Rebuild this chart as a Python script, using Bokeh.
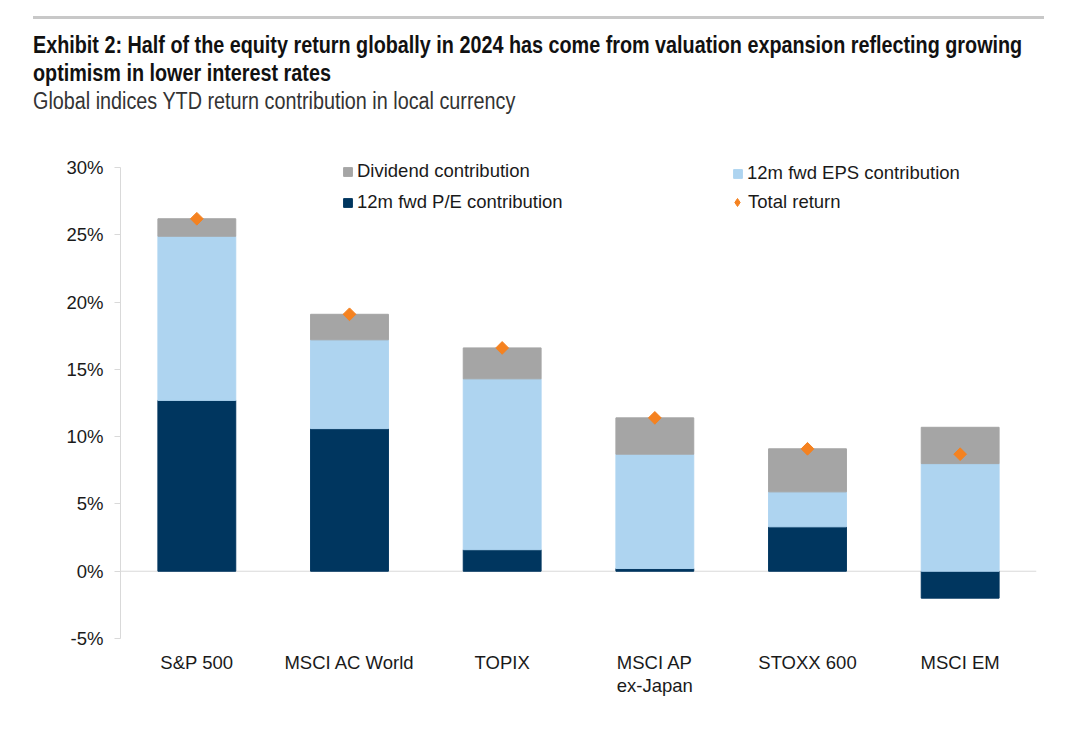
import math
from bokeh.plotting import figure
from bokeh.layouts import column
from bokeh.models import (ColumnDataSource, FixedTicker, Legend, LegendItem,
                          Span, Range1d, Div)
from bokeh.embed import file_html
from bokeh.resources import INLINE

# ---- data (percent) ----
categories = ["S&P 500", "MSCI AC World", "TOPIX", "MSCI AP\nex-Japan", "STOXX 600", "MSCI EM"]
pe_contrib = [12.7, 10.6, 1.6, 0.2, 3.3, -2.0]
eps_contrib = [12.2, 6.6, 12.7, 8.5, 2.6, 8.0]
div_contrib = [1.3, 1.9, 2.3, 2.7, 3.2, 2.7]
total_return = [26.2, 19.1, 16.6, 11.4, 9.1, 8.7]
y_ticks = [-5, 0, 5, 10, 15, 20, 25, 30]
y_tick_labels = ["-5%", "0%", "5%", "10%", "15%", "20%", "25%", "30%"]

title_line1 = "Exhibit 2: Half of the equity return globally in 2024 has come from valuation expansion reflecting growing"
title_line2 = "optimism in lower interest rates"
subtitle = "Global indices YTD return contribution in local currency"

# ---- stacking ----
pe_bottom = [0.0] * len(categories)
pe_top = pe_contrib
eps_bottom = [max(v, 0.0) for v in pe_contrib]
eps_top = [b + e for b, e in zip(eps_bottom, eps_contrib)]
div_bottom = eps_top
div_top = [b + d for b, d in zip(div_bottom, div_contrib)]

src = ColumnDataSource(dict(
    cat=categories, pe_bottom=pe_bottom, pe_top=pe_top,
    eps_bottom=eps_bottom, eps_top=eps_top,
    div_bottom=div_bottom, div_top=div_top, total=total_return,
))

NAVY = "#00365F"
LBLUE = "#AED4F0"
GREY = "#A5A5A5"
ORANGE = "#F58220"
FONT = "Liberation Sans"

p = figure(width=1071, height=610, x_range=categories, y_range=Range1d(-5, 31.2),
           output_backend="svg", toolbar_location=None, title=None,
           min_border_left=120, min_border_right=35, min_border_top=31, min_border_bottom=92)
p.margin = (0, 0, 0, 0)
p.outline_line_color = None
p.xgrid.grid_line_color = None
p.ygrid.grid_line_color = None

p.add_layout(Span(location=0, dimension="width", line_color="#D9D9D9", line_width=1, level="underlay"))

bw = 0.51
r_pe = p.vbar(x="cat", bottom="pe_bottom", top="pe_top", width=bw, source=src,
              fill_color=NAVY, line_color=NAVY)
r_eps = p.vbar(x="cat", bottom="eps_bottom", top="eps_top", width=bw, source=src,
               fill_color=LBLUE, line_color=LBLUE)
r_div = p.vbar(x="cat", bottom="div_bottom", top="div_top", width=bw, source=src,
               fill_color=GREY, line_color=GREY)
# legend key glyph for total return (zero size on the plot; legend sizes it itself)
r_tot_key = p.scatter(x="cat", y="total", source=src, marker="diamond", size=0,
                      fill_color=ORANGE, line_color=ORANGE)
r_tot = p.scatter(x="cat", y="total", source=src, marker="square", size=9, angle=math.pi / 4,
                  fill_color=ORANGE, line_color=ORANGE)

# ---- axes ----
ya = p.yaxis[0]
ya.ticker = FixedTicker(ticks=y_ticks)
ya.bounds = (-5, 30)
ya.major_label_overrides = {v: s for v, s in zip(y_ticks, y_tick_labels)}
ya.axis_line_color = "#D9D9D9"
ya.major_tick_line_color = "#D9D9D9"
ya.major_tick_out = 6
ya.major_tick_in = 0
ya.minor_tick_line_color = None
ya.major_label_standoff = 11
ya.major_label_text_font = FONT
ya.major_label_text_font_size = "18.5px"
ya.major_label_text_color = "#1A1A1A"

xa = p.xaxis[0]
xa.axis_line_color = None
xa.major_tick_line_color = None
xa.major_tick_out = 0
xa.major_tick_in = 0
xa.major_label_standoff = 13
xa.major_label_text_font = FONT
xa.major_label_text_font_size = "18.5px"
xa.major_label_text_color = "#1A1A1A"
xa.major_label_text_line_height = 1.1

# ---- legends ----
def make_legend(items, loc, gsize, standoff=4):
    lg = Legend(items=items, location=loc, orientation="vertical",
                border_line_color=None, background_fill_alpha=0,
                padding=0, margin=0, spacing=9, label_height=20,
                glyph_width=gsize, glyph_height=gsize, label_standoff=standoff,
                label_text_font=FONT, label_text_font_size="18.5px",
                label_text_color="#1A1A1A")
    p.add_layout(lg)
    return lg

make_legend([LegendItem(label="Dividend contribution", renderers=[r_div]),
             LegendItem(label="12m fwd P/E contribution", renderers=[r_pe])], (222, 425), 11)
make_legend([LegendItem(label="12m fwd EPS contribution", renderers=[r_eps])], (612, 454), 11)
make_legend([LegendItem(label="Total return", renderers=[r_tot_key])], (607, 425), 20, 1)

# ---- header (rule, title, subtitle) ----
narrow = "display:inline-block;transform:scaleX(0.86);transform-origin:0 0;white-space:nowrap;"
head_html = (
    '<div style="position:relative;width:1071px;height:120px;">'
    '<div style="position:absolute;left:33px;top:16px;width:1011px;height:0;'
    'border-top:3px solid #C8C8C8;"></div>'
    f'<div style="position:absolute;left:33px;top:35px;{narrow}'
    f'font-family:\'{FONT}\';font-weight:bold;font-size:23px;line-height:20px;color:#111111;">'
    f'{title_line1}</div>'
    f'<div style="position:absolute;left:33px;top:63px;{narrow}'
    f'font-family:\'{FONT}\';font-weight:bold;font-size:23px;line-height:20px;color:#111111;">'
    f'{title_line2}</div>'
    f'<div style="position:absolute;left:33px;top:91px;{narrow}'
    f'font-family:\'{FONT}\';font-size:23px;line-height:20px;color:#333333;">'
    f'{subtitle}</div>'
    '</div>'
)
header = Div(text=head_html, width=1071, height=120, margin=(0, 0, 0, 0))

layout = column(header, p, spacing=0)
open("out.html", "w").write(file_html(layout, INLINE))
